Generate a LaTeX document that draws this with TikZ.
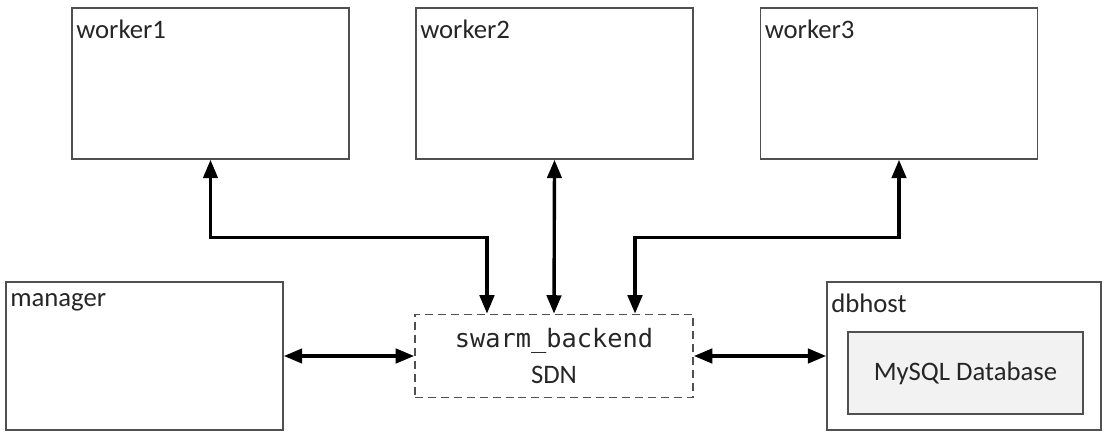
\documentclass[tikz,border=0pt]{standalone}
\usepackage{fontspec}
\setmainfont{Carlito}
\setmonofont{DejaVu Sans Mono}
\usetikzlibrary{arrows.meta}
\definecolor{boxgray}{HTML}{505050}
\definecolor{dbfill}{HTML}{F2F2F2}

\begin{document}
\begin{tikzpicture}[x=0.025cm, y=-0.025cm]
\tikzstyle{every node} = [font = \fontsize{19}{25}\selectfont, text=black!85]
\tikzstyle{host} = [draw=boxgray, line width=1.1pt, minimum width=6.925cm, minimum height=3.775cm, inner sep=0pt]
\tikzstyle{hostname} = [anchor=north west, inner xsep=0.12cm, inner ysep=0.3cm]
\tikzstyle{link} = [line width=2.4pt, {Triangle[length=0.46cm,width=0.36cm]}-{Triangle[length=0.46cm,width=0.36cm]}]
\useasboundingbox (0,0) rectangle (1104,432);

\foreach \n/\x in {1/210.5, 2/554.5, 3/899}
{
	\node[host, label={[hostname]north west:worker\n}] (w\n) at (\x,83.5) {};
}
\node[host, minimum height=3.7cm, label={[hostname]north west:manager}] (manager) at (144.5,356) {};
\node[host, minimum width=6.85cm, minimum height=3.7cm, label={[hostname]north west:dbhost}] (dbhost) at (964,356) {};
\node[draw=boxgray, fill=dbfill, line width=1.1pt, minimum width=5.875cm, minimum height=2.05cm] (mysql) at (965.5,373) {MySQL Database};
\node[draw=boxgray, line width=1.2pt, dash pattern=on 5.7pt off 3.5pt, minimum width=6.95cm, minimum height=2.075cm, align=center] (sdn) at (554,356) {{\ttfamily\fontsize{18}{25}\selectfont swarm\_backend}\\SDN};

\draw [link] (w1.south) -- ++(0,78) -| ([xshift=-1.675cm]sdn.north); %worker1 to sdn
\draw [link] (w2.south) -- (sdn.north); %worker2 to sdn
\draw [link] (w3.south) -- ++(0,78) -| ([xshift=2.025cm]sdn.north); %worker3 to sdn
\draw [link] (manager.east) -- (sdn.west);
\draw [link] (sdn.east) -- (dbhost.west);
\end{tikzpicture}
\end{document}
